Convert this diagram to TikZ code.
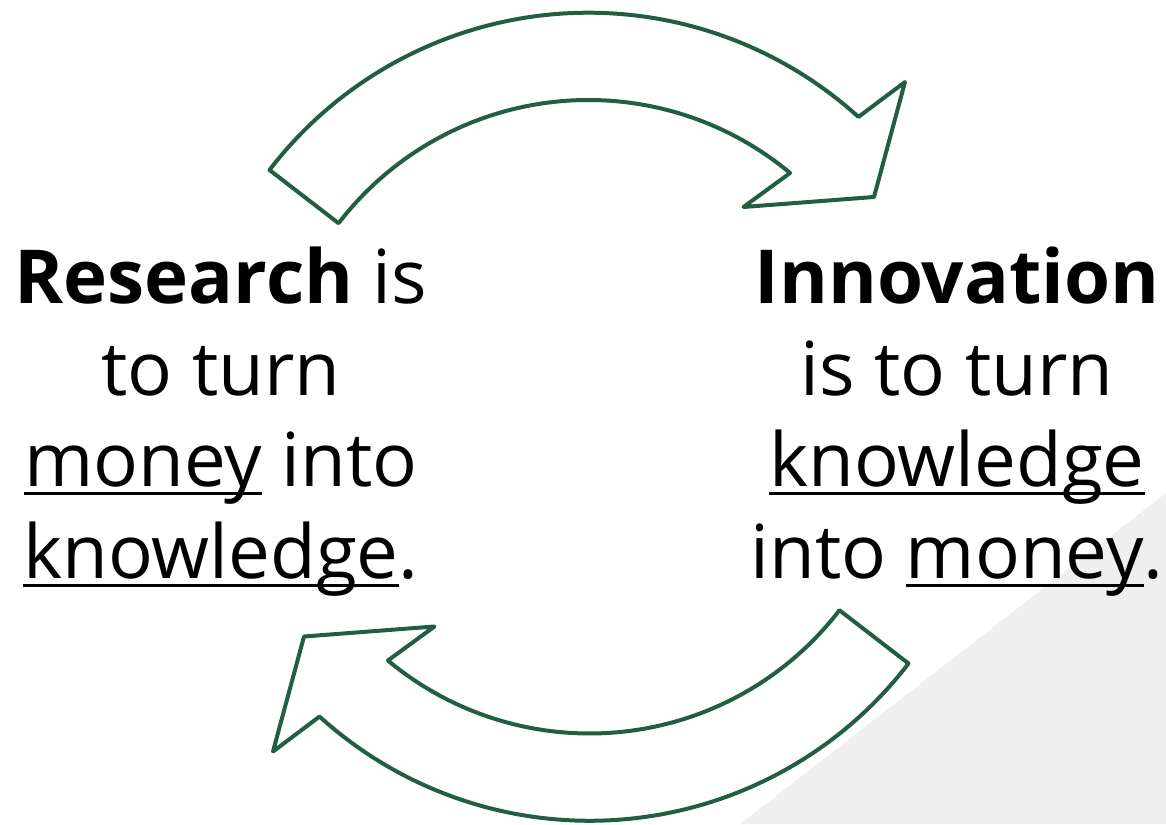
\documentclass[tikz,border=0pt]{standalone}
\usepackage{fontspec}
\setmainfont{Open Sans}
\definecolor{arrowgreen}{RGB}{33,94,66}
\definecolor{bggray}{RGB}{239,239,239}
\newcommand\ulword[1]{\setbox0\hbox{#1}\rlap{\rule[-8.5pt]{\wd0}{3pt}}\box0\relax}
\begin{document}
\begin{tikzpicture}[x=1pt,y=1pt,
  block/.style={draw=arrowgreen, line width=4pt, fill=white, line join=round},
  txt/.style={anchor=base, inner sep=0pt, font=\fontsize{74.5}{90}\selectfont}]
\useasboundingbox (0,0) rectangle (1166,824);
\fill[bggray] (1166,331) -- (740,0) -- (1166,0) -- cycle;
\draw[block] (269.5,654) arc[start angle=142.5, end angle=47.8, radius=402]
  -- (905,742) -- (874,627) -- (743.5,617) -- (790.1,651)
  arc[start angle=50.2, end angle=142.5, radius=315] -- cycle;
\begin{scope}[rotate around={180:(589,407.25)}]
\draw[block] (269.5,654) arc[start angle=142.5, end angle=47.8, radius=402]
  -- (905,742) -- (874,627) -- (743.5,617) -- (790.1,651)
  arc[start angle=50.2, end angle=142.5, radius=315] -- cycle;
\end{scope}
\node[txt] (r1) at (221,520) {\textbf{Research} is};
\node[txt] (r2) at (221,428.5) {to turn};
\node[txt] (r3) at (221,337) {\ulword{money} into};
\node[txt] (r4) at (221,245.5) {\ulword{knowledge}.};
\node[txt] (i1) at (957,520) {\textbf{Innovation}};
\node[txt] (i2) at (957,428.5) {is to turn};
\node[txt] (i3) at (957,337) {\ulword{knowledge}};
\node[txt] (i4) at (957,245.5) {into \ulword{money}.};
\end{tikzpicture}
\end{document}
